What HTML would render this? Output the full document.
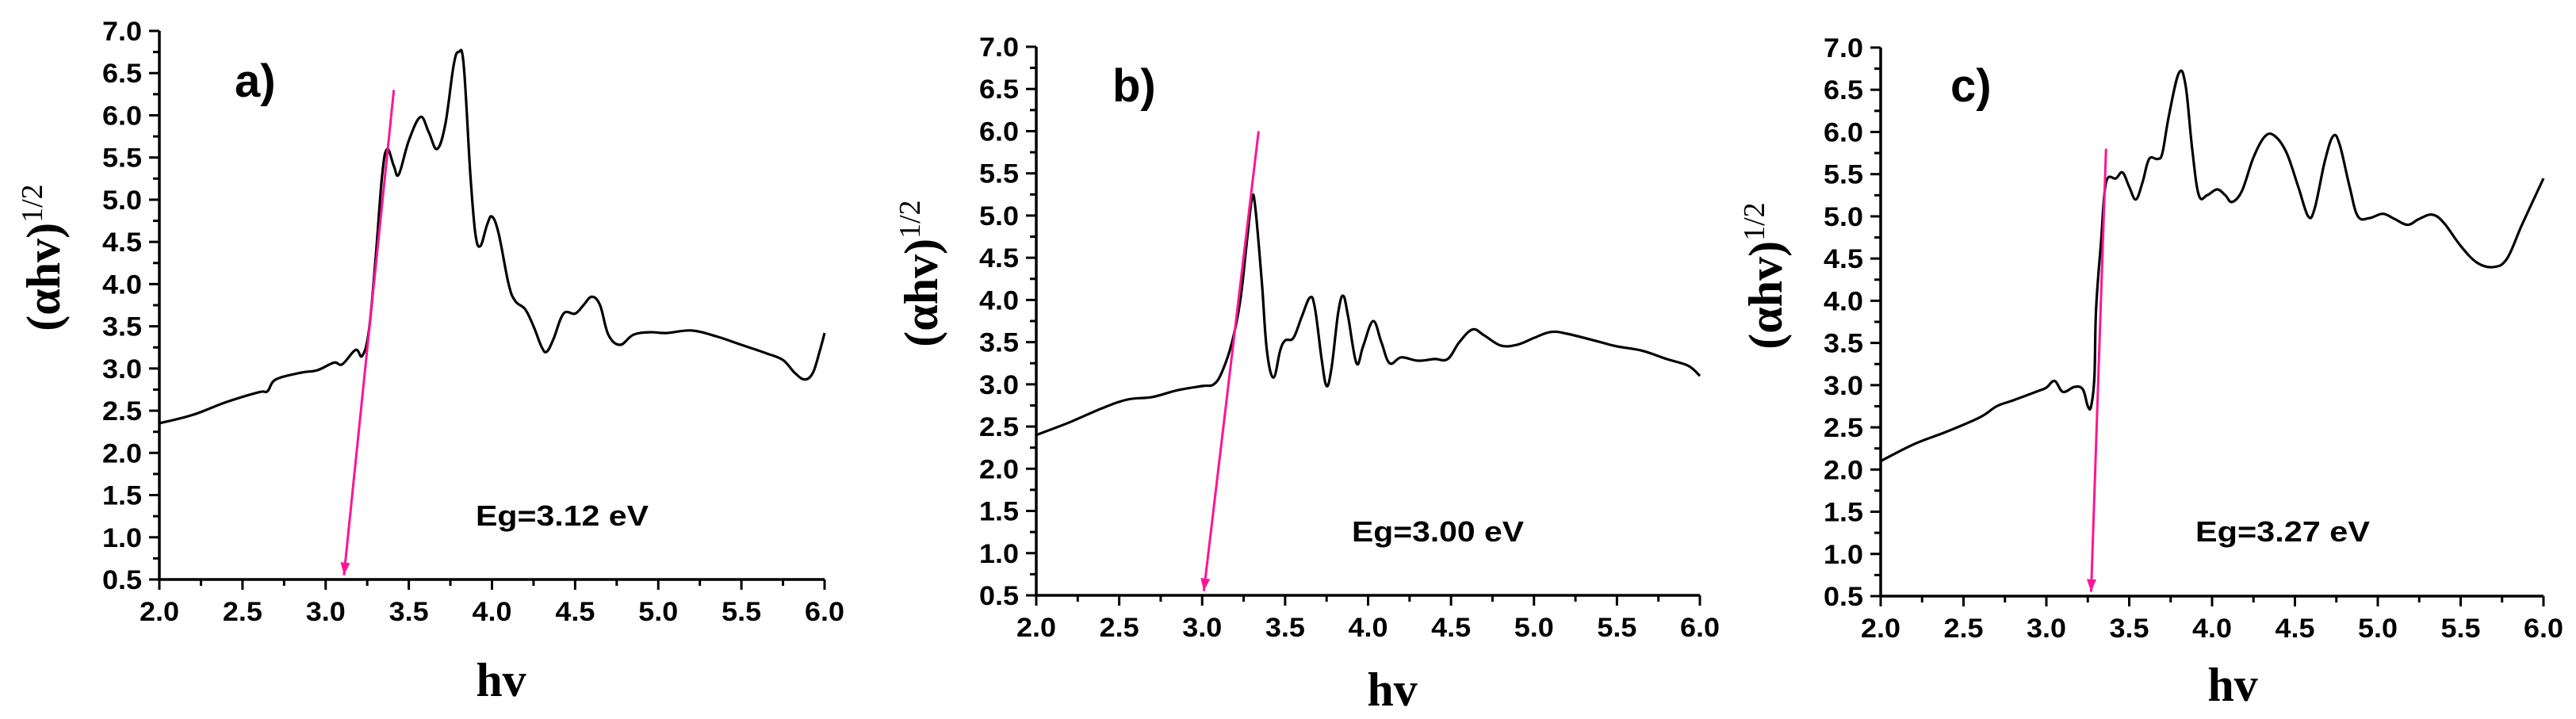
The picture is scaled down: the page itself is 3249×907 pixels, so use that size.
<!DOCTYPE html>
<html><head><meta charset="utf-8"><style>
html,body{margin:0;padding:0;background:#fff;}
svg{display:block;}
</style></head><body>
<svg id="chart" width="3249" height="907" viewBox="0 0 3249 907" xmlns="http://www.w3.org/2000/svg"></svg>
<script>
// Panel a data
const aX = [2.0,2.2,2.4,2.6,2.65,2.7,2.85,2.95,3.05,3.1,3.18,3.22,3.26,3.3,3.34,3.37,3.41,3.44,3.5,3.57,3.62,3.67,3.72,3.77,3.8,3.83,3.87,3.9,3.93,3.97,4.0,4.04,4.1,4.14,4.2,4.25,4.3,4.33,4.37,4.43,4.5,4.55,4.6,4.65,4.7,4.77,4.85,4.95,5.05,5.2,5.35,5.5,5.65,5.75,5.82,5.88,5.93,5.97,6.0];
const aY = [2.35,2.45,2.6,2.72,2.73,2.87,2.95,2.98,3.07,3.05,3.22,3.15,3.45,4.3,5.3,5.6,5.4,5.3,5.7,5.98,5.8,5.6,5.9,6.6,6.75,6.6,5.3,4.6,4.45,4.7,4.8,4.6,4.0,3.8,3.7,3.5,3.25,3.2,3.35,3.65,3.65,3.75,3.85,3.75,3.4,3.28,3.4,3.43,3.42,3.45,3.38,3.28,3.18,3.1,2.95,2.87,2.95,3.2,3.42];
// Panel b data
const bX = [2.0,2.2,2.4,2.55,2.7,2.85,3.0,3.07,3.12,3.18,3.23,3.27,3.3,3.32,3.36,3.39,3.43,3.47,3.5,3.55,3.6,3.65,3.68,3.72,3.75,3.78,3.82,3.85,3.88,3.93,3.97,4.03,4.08,4.13,4.2,4.3,4.4,4.48,4.55,4.63,4.7,4.8,4.9,5.0,5.1,5.2,5.4,5.5,5.65,5.8,5.93,6.0];
const bY = [2.4,2.55,2.72,2.82,2.85,2.93,2.98,3.0,3.15,3.5,4.0,4.7,5.2,5.1,4.2,3.4,3.08,3.4,3.52,3.55,3.8,4.03,3.9,3.3,2.98,3.2,3.85,4.05,3.8,3.25,3.45,3.75,3.5,3.25,3.32,3.28,3.3,3.3,3.5,3.65,3.58,3.46,3.47,3.55,3.62,3.6,3.5,3.45,3.4,3.3,3.22,3.1];
// Panel c data
const cX = [2.0,2.2,2.4,2.6,2.7,2.8,2.95,3.0,3.05,3.1,3.17,3.22,3.25,3.27,3.29,3.3,3.33,3.36,3.42,3.46,3.5,3.54,3.58,3.62,3.67,3.7,3.74,3.8,3.84,3.88,3.92,3.97,4.03,4.08,4.12,4.18,4.25,4.32,4.38,4.45,4.52,4.58,4.62,4.68,4.73,4.77,4.83,4.88,4.95,5.03,5.1,5.18,5.25,5.33,5.4,5.5,5.6,5.7,5.78,5.87,6.0];
const cY = [2.1,2.3,2.45,2.62,2.75,2.82,2.93,2.97,3.05,2.92,2.98,2.95,2.75,2.75,3.1,3.9,4.7,5.4,5.45,5.52,5.35,5.2,5.4,5.68,5.68,5.75,6.2,6.7,6.55,5.8,5.25,5.25,5.32,5.25,5.17,5.3,5.7,5.95,5.95,5.75,5.35,5.0,5.1,5.65,5.95,5.85,5.35,5.0,4.98,5.03,4.97,4.9,4.97,5.02,4.92,4.65,4.45,4.4,4.5,4.9,5.45];
// Band-gap fit lines [x0,y0,x1,y1] in data units (top then arrow end)
const aFit = [3.41,6.3,3.11,0.55];
const bFit = [3.34,6.0,3.01,0.55];
const cFit = [3.36,5.8,3.27,0.55];
const xTicks = ["2.0","2.5","3.0","3.5","4.0","4.5","5.0","5.5","6.0"];
const yTicks = ["0.5","1.0","1.5","2.0","2.5","3.0","3.5","4.0","4.5","5.0","5.5","6.0","6.5","7.0"];
const panelLabels = ["a)","b)","c)"];
const egLabels = ["Eg=3.12 eV","Eg=3.00 eV","Eg=3.27 eV"];

const NS = "http://www.w3.org/2000/svg";
const svg = document.getElementById('chart');
function mk(tag, attrs, parent){
  const e = document.createElementNS(NS, tag);
  for (const k in attrs) e.setAttribute(k, attrs[k]);
  (parent||svg).appendChild(e);
  return e;
}
function smoothPath(pts){
  let d = 'M' + pts[0][0].toFixed(1) + ',' + pts[0][1].toFixed(1);
  for (let i = 0; i < pts.length - 1; i++) {
    const p0 = pts[Math.max(0, i-1)], p1 = pts[i], p2 = pts[i+1], p3 = pts[Math.min(pts.length-1, i+2)];
    const t = 0.18;
    const c1x = p1[0] + (p2[0]-p0[0])*t, c1y = p1[1] + (p2[1]-p0[1])*t;
    const c2x = p2[0] - (p3[0]-p1[0])*t, c2y = p2[1] - (p3[1]-p1[1])*t;
    d += 'C' + c1x.toFixed(1) + ',' + c1y.toFixed(1) + ' ' + c2x.toFixed(1) + ',' + c2y.toFixed(1) + ' ' + p2[0].toFixed(1) + ',' + p2[1].toFixed(1);
  }
  return d;
}
const panels = [
  {L:201,R:1040,T:39,B:731,xs:aX,ys:aY,fit:aFit,lab:[296,122],eg:[600,663,218],hv:[632,878],yt:[53,325]},
  {L:1307,R:2144,T:59,B:751,xs:bX,ys:bY,fit:bFit,lab:[1403,128],eg:[1705,683,217],hv:[1756,890],yt:[1160,345]},
  {L:2372,R:3208,T:60,B:752,xs:cX,ys:cY,fit:cFit,lab:[2460,128],eg:[2769,683,220],hv:[2816,884],yt:[2225,348]}
];
panels.forEach((p, i) => {
  const g = mk('g', {});
  
  
  const sx = v => p.L + (v - 2) / 4 * (p.R - p.L);
  const sy = v => p.B - (v - 0.5) / 6.5 * (p.B - p.T);
  const ax = mk('path', {d:`M${p.L},${p.T} L${p.L},${p.B} L${p.R},${p.B}`, fill:'none', stroke:'#000', 'stroke-width':3.5}, g);
  
  
  yTicks.forEach((t, k) => {
    const v = parseFloat(t);
    const y = sy(v);
    mk('line', {x1:p.L-13, x2:p.L, y1:y, y2:y, stroke:'#000', 'stroke-width':3}, g);
    if (k < yTicks.length - 1) {
      const ym = sy(v + 0.25);
      mk('line', {x1:p.L-8, x2:p.L, y1:ym, y2:ym, stroke:'#000', 'stroke-width':3}, g);
    }
    const tl = mk('text', {x:p.L-72, y:y+12, 'font-family':'Liberation Sans, sans-serif', 'font-weight':'bold', 'font-size':34, textLength:50, lengthAdjust:'spacingAndGlyphs'}, g);
    
    
    tl.textContent = t;
  });
  xTicks.forEach((t, k) => {
    const v = parseFloat(t);
    const x = sx(v);
    mk('line', {x1:x, x2:x, y1:p.B, y2:p.B+13, stroke:'#000', 'stroke-width':3}, g);
    if (k < xTicks.length - 1) {
      const xm = sx(v + 0.25);
      mk('line', {x1:xm, x2:xm, y1:p.B, y2:p.B+8, stroke:'#000', 'stroke-width':3}, g);
    }
    const tl = mk('text', {x:x-25, y:p.B+52, 'font-family':'Liberation Sans, sans-serif', 'font-weight':'bold', 'font-size':34, textLength:50, lengthAdjust:'spacingAndGlyphs'}, g);
    
    
    tl.textContent = t;
  });
  const pts = p.xs.map((xv, k) => [sx(xv), sy(p.ys[k])]);
  const curve = mk('path', {d:smoothPath(pts), fill:'none', stroke:'#000', 'stroke-width':3.2, 'stroke-linejoin':'round'}, g);
  
  
  const x0 = sx(p.fit[0]), y0 = sy(p.fit[1]), x1 = sx(p.fit[2]), y1 = sy(p.fit[3]);
  const fl = mk('line', {x1:x0, y1:y0, x2:x1, y2:y1, stroke:'#ff1493', 'stroke-width':3}, g);
  
  
  const ang = Math.atan2(y1 - y0, x1 - x0);
  const hl = 16, hw = 6;
  const bx = x1 - hl * Math.cos(ang), by = y1 - hl * Math.sin(ang);
  const ah = mk('polygon', {points:`${x1},${y1} ${bx - hw*Math.sin(ang)},${by + hw*Math.cos(ang)} ${bx + hw*Math.sin(ang)},${by - hw*Math.cos(ang)}`, fill:'#ff1493'}, g);
  
  
  const pl = mk('text', {x:p.lab[0], y:p.lab[1], 'font-family':'Liberation Sans, sans-serif', 'font-weight':'bold', 'font-size':58}, g);
  
  
  pl.textContent = panelLabels[i];
  const eg = mk('text', {x:p.eg[0], y:p.eg[1], 'font-family':'Liberation Sans, sans-serif', 'font-weight':'bold', 'font-size':36, textLength:p.eg[2], lengthAdjust:'spacingAndGlyphs'}, g);
  
  
  eg.textContent = egLabels[i];
  const xt = mk('text', {x:p.hv[0], y:p.hv[1], 'text-anchor':'middle', 'font-family':'Liberation Serif, serif', 'font-weight':'bold', 'font-size':60}, g);
  
  
  xt.textContent = 'hv';
  const yt = mk('text', {x:0, y:0, 'text-anchor':'middle', 'font-family':'Liberation Serif, serif', 'font-weight':'bold', 'font-size':60, transform:`translate(${p.yt[0]+22},${p.yt[1]}) rotate(-90)`}, g);
  
  
  const t1 = mk('tspan', {}, yt);
  t1.textContent = '(\u03b1hv)';
  const t2 = mk('tspan', {dy:-22, 'font-size':38, 'font-weight':'normal'}, yt);
  t2.textContent = '1/2';
});
</script>
</body></html>
